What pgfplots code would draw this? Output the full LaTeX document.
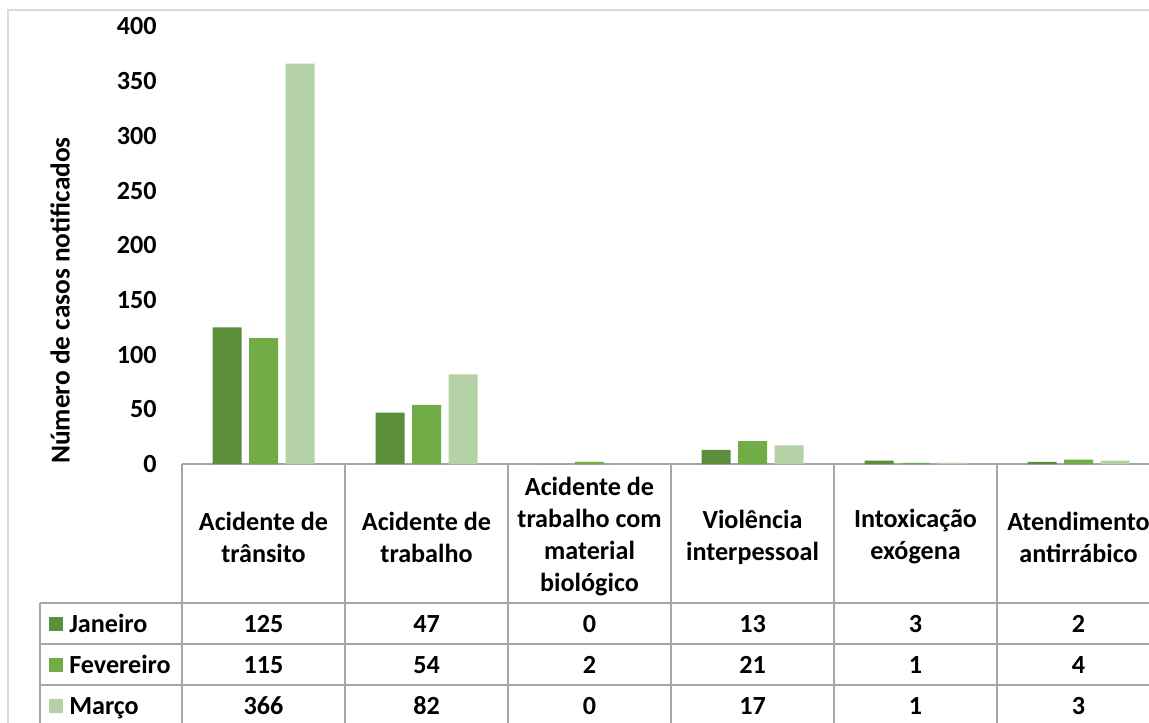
\documentclass[border=0pt]{standalone}
\usepackage{fontspec}
\setmainfont{Carlito}
\usepackage{pgfplots}
\pgfplotsset{compat=1.18}
\definecolor{jan}{HTML}{5B8E3B}
\definecolor{fev}{HTML}{70AD47}
\definecolor{mar}{HTML}{B5D2A7}
\definecolor{tline}{HTML}{A6A6A6}
\definecolor{cframe}{HTML}{D9D9D9}
\begin{document}
\begin{tikzpicture}[x=0.75pt,y=0.75pt,font=\fontsize{19.6}{24}\selectfont\bfseries]
\useasboundingbox (0,0) rectangle (1149,722);
\clip (0,0) rectangle (1149,722);
\fill[white] (0,0) rectangle (1149,722);
\draw[cframe, line width=1pt] (8,-10) -- (8,712) -- (1160,712);
\begin{axis}[
  at={(136.5pt,193.5pt)}, anchor=south west,
  scale only axis, width=733.5pt, height=328.125pt,
  xmin=-0.5, xmax=5.5, ymin=0, ymax=400,
  axis x line*=bottom, axis y line*=left,
  y axis line style={draw=none},
  x axis line style={draw=tline, line width=1pt, -},
  xtick=\empty, ytick={0,50,...,400},
  major tick length=0pt,
  yticklabel style={anchor=east, inner sep=0pt, xshift=-18.75pt},
  /pgf/number format/assume math mode=true,
  ticklabel style={font=\fontsize{19.6}{24}\selectfont\bfseries},
  clip=false,
]
\addplot[ybar, bar width=21.75pt, bar shift=-27.2pt, fill=jan, draw=none]
  coordinates {(0,125) (1,47) (2,0) (3,13) (4,3) (5,2)};
\addplot[ybar, bar width=21.75pt, bar shift=0pt, fill=fev, draw=none]
  coordinates {(0,115) (1,54) (2,2) (3,21) (4,1) (5,4)};
\addplot[ybar, bar width=21.75pt, bar shift=27.4pt, fill=mar, draw=none]
  coordinates {(0,366) (1,82) (2,0) (3,17) (4,1) (5,3)};
\end{axis}
% y label
\node[rotate=90, font=\fontsize{20.5}{24}\selectfont\bfseries] at (60,421.5) {Número de casos notificados};
% table lines
\foreach \x in {182,345,508,671,834,997} \draw[tline, line width=1pt] (\x,258) -- (\x,-10);
\draw[tline, line width=1pt] (40,119) -- (40,-10);
\foreach \y in {119,78,37} \draw[tline, line width=1pt] (40,\y) -- (1160,\y);
% headers
\foreach \c/\t in {263.5/{Acidente de\\trânsito}, 426.5/{Acidente de\\trabalho}, 589.5/{Acidente de\\trabalho com\\material\\biológico}, 752.5/{Violência\\interpessoal}, 915.5/{Intoxicação\\exógena}, 1078.5/{Atendimento\\antirrábico}}
  \node[align=center, inner sep=0pt] at (\c,185) {\t};
% legend keys
\fill[jan] (49,91) rectangle (63,105);
\fill[fev] (49,50) rectangle (63,64);
\fill[mar] (49,9) rectangle (63,23);
\node[anchor=base west, inner sep=0pt] at (69,89.5) {Janeiro};
\node[anchor=base west, inner sep=0pt] at (69,48.5) {Fevereiro};
\node[anchor=base west, inner sep=0pt] at (69,7.5) {Março};
% values
\foreach \c/\a/\b/\m in {263.5/125/115/366, 426.5/47/54/82, 589.5/0/2/0, 752.5/13/21/17, 915.5/3/1/1, 1078.5/2/4/3} {
  \node[anchor=base, inner sep=0pt] at (\c,89.5) {\a};
  \node[anchor=base, inner sep=0pt] at (\c,48.5) {\b};
  \node[anchor=base, inner sep=0pt] at (\c,7.5) {\m};
}
\end{tikzpicture}
\end{document}
